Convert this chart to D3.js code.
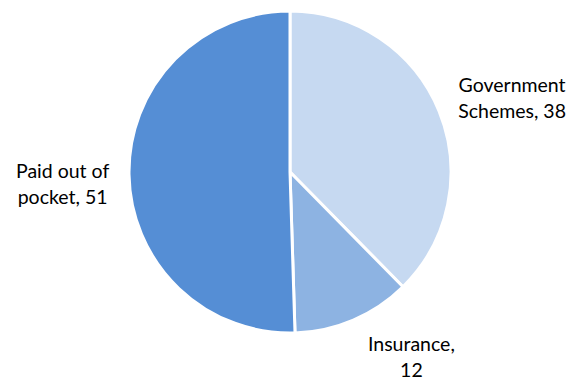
<!DOCTYPE html>
<meta charset="utf-8">
<script src="https://cdn.jsdelivr.net/npm/d3@7"></script>
<style>
	body{margin:0;background:#fff;font-family:Lato,"Open Sans",sans-serif;}
	.lbl{font-size:19.5px;fill:#000;}
</style>
<div id="chart"></div>
<script>
var categories = ["Government Schemes", "Insurance", "Paid out of pocket"]
var values = [38, 12, 51]
var colors = ["#c6d9f1", "#8db3e2", "#558ed5"]
// label lines, as wrapped in the picture
var labelLines = [["Government", "Schemes, 38"], ["Insurance,", "12"], ["Paid out of", "pocket, 51"]]

var width = 584
var height = 380
var cx = 290, cy = 172, r = 161

var svg = d3.select("#chart").append("svg")
	.attr("width", width)
	.attr("height", height)

var data = categories.map(function(c, i){ return {name:c, value:values[i], lines:labelLines[i], color:colors[i]} })

var pie = d3.pie().sort(null).value(function(d){ return d.value })
var arc = d3.arc().innerRadius(0).outerRadius(r)
var arcs = pie(data)

var g = svg.append("g").attr("transform", "translate(" + cx + "," + cy + ")")

g.selectAll("path")
	.data(arcs)
	.enter()
	.append("path")
	.attr("d", arc)
	.attr("fill", function(d){ return d.data.color })
	.attr("stroke", "#fff")
	.attr("stroke-width", 3)
	.attr("stroke-linejoin", "round")

// labels sit outside the pie, at a radius past the edge
var labelArc = d3.arc().innerRadius(r * 1.4).outerRadius(r * 1.4)
var nudge = [[13.5, 5.6], [32.7, -28.2], [-2, 2]]

var lab = g.selectAll("text.lbl")
	.data(arcs)
	.enter()
	.append("text")
	.attr("class", "lbl")
	.attr("text-anchor", "middle")
	.attr("transform", function(d, i){
		var p = labelArc.centroid(d)
		return "translate(" + (p[0] + nudge[i][0]) + "," + (p[1] + nudge[i][1]) + ")"
	})

lab.selectAll("tspan")
	.data(function(d){ return d.data.lines })
	.enter()
	.append("tspan")
	.attr("x", 0)
	.attr("dy", function(d, i){ return i == 0 ? 0 : 26 })
	.text(function(d){ return d })
</script>
